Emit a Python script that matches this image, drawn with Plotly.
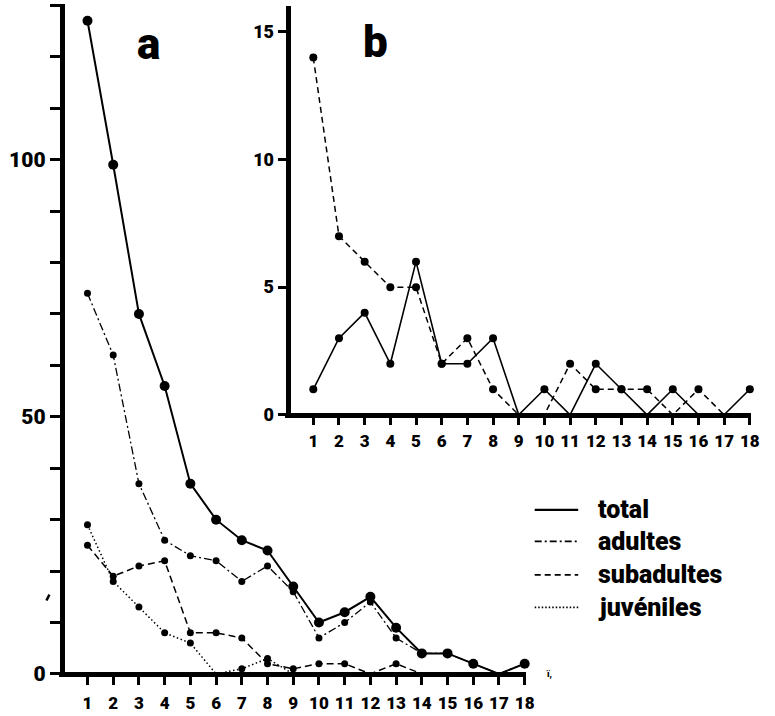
import plotly.graph_objects as go

# size classes on the horizontal axis
classes = list(range(1, 19))

# panel a: counts per class
a_total = [127, 99, 70, 56, 37, 30, 26, 24, 17, 10, 12, 15, 9, 4, 4, 2, 0, 2]
a_adultes = [74, 62, 37, 26, 23, 22, 18, 21, 16, 7, 10, 14, 7, 4, 4, 2, 0, 2]
a_subadultes = [25, 19, 21, 22, 8, 8, 7, 2, 1, 2, 2, 0, 2, 0, 0, 0, 0, 0]
a_juveniles = [29, 18, 13, 8, 6, 0, 1, 3, 0, 0, 0, 0, 0, 0, 0, 0, 0, 0]

# panel b: counts per class
b_total = [1, 3, 4, 2, 6, 2, 2, 3, 0, 1, 0, 2, 1, 0, 1, 0, 0, 1]
b_subadultes = [14, 7, 6, 5, 5, 2, 3, 1, 0, 0, 2, 1, 1, 1, 0, 1, 0, 0]

a_yticks = [0, 50, 100]
b_yticks = [0, 5, 10, 15]
legend_names = ["total", "adultes", "subadultes", "juvéniles"]

W, H = 775, 716
FONT = "Roboto"
HEAVY = 900


def px_x(p):
    return p / W


def px_y(p):
    return 1 - p / H


def font(size):
    return dict(family=FONT, size=size, color="black", weight=HEAVY)


def dot_sizes(vals, size):
    # points lying on the axis are hidden under the axis line
    return [size if v > 0 else 0 for v in vals]


def add_series(vals, dash, lw, ms, xa, ya):
    fig.add_trace(go.Scatter(
        x=classes, y=vals, mode="lines+markers",
        line=dict(color="black", width=lw, dash=dash),
        marker=dict(color="black", size=dot_sizes(vals, ms), opacity=1,
                    line=dict(color="black", width=0)),
        cliponaxis=False, showlegend=False, hoverinfo="skip",
        xaxis=xa, yaxis=ya,
    ))


fig = go.Figure()

# ---- panel a ----
add_series(a_total, "solid", 2.0, 10, "x", "y")
add_series(a_adultes, "8px,3px,2px,3px", 1.3, 7, "x", "y")
add_series(a_subadultes, "7px,4px", 1.5, 7, "x", "y")
add_series(a_juveniles, "1.5px,2.5px", 1.5, 7, "x", "y")

# ---- panel b ----
add_series(b_total, "solid", 1.6, 8, "x2", "y2")
add_series(b_subadultes, "6px,4px", 1.5, 8, "x2", "y2")

LW = 5  # thickness of the axis lines

# panel a: pixel position of value 0 and pixels per unit
a_x0, a_sx = 62.5, 26.02
a_y0, a_sy = 683.5, 5.216
a_left, a_right = a_x0 - LW / 2, 532
a_bottom, a_top = a_y0 + LW / 2, a_y0 - 130.3 * a_sy

fig.update_layout(
    xaxis=dict(
        domain=[px_x(a_left), px_x(a_right)],
        range=[(a_left - a_x0) / a_sx, (a_right - a_x0) / a_sx],
        anchor="free", position=px_y(a_y0),
        showline=True, linewidth=LW, linecolor="black",
        showgrid=False, zeroline=False,
        tickmode="array", tickvals=classes, ticktext=[str(c) for c in classes],
        ticks="outside", ticklen=8, tickwidth=2.5, tickcolor="black",
        tickfont=font(17), ticklabelstandoff=4,
    ),
    yaxis=dict(
        domain=[px_y(a_bottom), px_y(a_top)],
        range=[(a_y0 - a_bottom) / a_sy, 130.3],
        anchor="free", position=px_x(a_x0),
        showline=True, linewidth=LW, linecolor="black",
        showgrid=False, zeroline=False,
        tickmode="array", tickvals=a_yticks, ticktext=[str(v) for v in a_yticks],
        ticks="outside", ticklen=10, tickwidth=2.5, tickcolor="black",
        tickfont=font(21),
        minor=dict(dtick=10, tick0=0, ticks="outside", ticklen=10,
                   tickwidth=2.5, tickcolor="black", showgrid=False),
    ),
)

# panel b
b_x0, b_sx = 291.0, 25.98
b_y0, b_sy = 420.7, 25.89
b_left, b_right = b_x0 - LW / 2, 760
b_bottom, b_top = b_y0 + LW / 2, b_y0 - 16 * b_sy

fig.update_layout(
    xaxis2=dict(
        domain=[px_x(b_left), px_x(b_right)],
        range=[(b_left - b_x0) / b_sx, (b_right - b_x0) / b_sx],
        anchor="free", position=px_y(b_y0),
        showline=True, linewidth=LW, linecolor="black",
        showgrid=False, zeroline=False,
        tickmode="array", tickvals=classes, ticktext=[str(c) for c in classes],
        ticks="outside", ticklen=7, tickwidth=2.5, tickcolor="black",
        tickfont=font(17), ticklabelstandoff=2,
    ),
    yaxis2=dict(
        domain=[px_y(b_bottom), px_y(b_top)],
        range=[(b_y0 - b_bottom) / b_sy, 16],
        anchor="free", position=px_x(b_x0),
        showline=True, linewidth=LW, linecolor="black",
        showgrid=False, zeroline=False,
        tickmode="array", tickvals=b_yticks, ticktext=[str(v) for v in b_yticks],
        ticks="outside", ticklen=8, tickwidth=2.5, tickcolor="black",
        tickfont=font(18),
    ),
)

# panel letters
fig.add_annotation(x=px_x(150), y=px_y(45), xref="paper", yref="paper",
                   text="a", showarrow=False, font=font(44),
                   xanchor="center", yanchor="middle")
fig.add_annotation(x=px_x(380), y=px_y(43), xref="paper", yref="paper",
                   text="b", showarrow=False, font=font(44),
                   xanchor="center", yanchor="middle")

# key: line samples with labels
key_dashes = ["solid", "7px,3px,2px,3px", "6px,4px", "1.5px,2px"]
key_widths = [2.2, 1.6, 1.6, 1.6]
key_y = [517, 549, 583, 616]
for name, dash, lw, ky in zip(legend_names, key_dashes, key_widths, key_y):
    fig.add_shape(type="line", xref="paper", yref="paper",
                  x0=px_x(541), x1=px_x(585), y0=px_y(ky), y1=px_y(ky),
                  line=dict(color="black", width=lw, dash=dash))
    fig.add_annotation(x=px_x(603), y=px_y(ky), xref="paper", yref="paper",
                       text=name, showarrow=False, xanchor="left", yanchor="middle",
                       font=font(25))

# small stray marks of the printed page
fig.add_shape(type="line", xref="paper", yref="paper",
              x0=px_x(47), x1=px_x(50), y0=px_y(609), y1=px_y(603),
              line=dict(color="black", width=2.5))
fig.add_annotation(x=px_x(561), y=px_y(691), xref="paper", yref="paper",
                   text="ï,", showarrow=False, font=font(9))

fig.update_layout(
    width=W, height=H,
    margin=dict(l=0, r=0, t=0, b=0),
    paper_bgcolor="white", plot_bgcolor="rgba(0,0,0,0)",
    showlegend=False,
)

fig.write_html("out.html")
